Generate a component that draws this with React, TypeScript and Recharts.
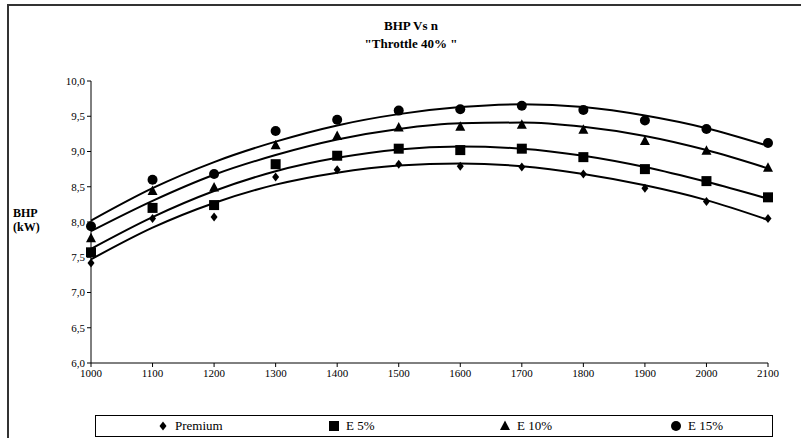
import { ComposedChart, Line, Scatter, XAxis, YAxis } from "recharts";

const rpm = [1000, 1100, 1200, 1300, 1400, 1500, 1600, 1700, 1800, 1900, 2000, 2100];

const premium = [7.42, 8.05, 8.07, 8.64, 8.74, 8.82, 8.79, 8.78, 8.68, 8.48, 8.29, 8.05];
const e5 = [7.57, 8.2, 8.24, 8.82, 8.94, 9.04, 9.02, 9.04, 8.92, 8.75, 8.58, 8.35];
const e10 = [7.77, 8.44, 8.49, 9.09, 9.22, 9.34, 9.35, 9.38, 9.31, 9.15, 9.01, 8.77];
const e15 = [7.94, 8.6, 8.68, 9.29, 9.45, 9.58, 9.6, 9.65, 9.59, 9.44, 9.32, 9.12];

// trend lines
const premiumTrend = [7.47, 7.92, 8.27, 8.53, 8.7, 8.8, 8.83, 8.79, 8.68, 8.52, 8.31, 8.03];
const e5Trend = [7.62, 8.07, 8.44, 8.72, 8.91, 9.03, 9.07, 9.04, 8.94, 8.78, 8.57, 8.33];
const e10Trend = [7.87, 8.3, 8.67, 8.95, 9.17, 9.32, 9.4, 9.41, 9.35, 9.22, 9.02, 8.76];
const e15Trend = [8.02, 8.48, 8.85, 9.14, 9.37, 9.53, 9.63, 9.67, 9.63, 9.51, 9.33, 9.08];

const yTicks = [6, 6.5, 7, 7.5, 8, 8.5, 9, 9.5, 10];

const toRows = (vals: number[]) => rpm.map((n, i) => ({ n, v: vals[i] }));

const FONT = '"Times New Roman", "Liberation Serif", serif';

const Diamond = (p: any) => (
  <polygon
    points={`${p.cx},${p.cy - 4.5} ${p.cx + 3.5},${p.cy} ${p.cx},${p.cy + 4.5} ${p.cx - 3.5},${p.cy}`}
    fill="#000"
  />
);
const Square = (p: any) => <rect x={p.cx - 5} y={p.cy - 5} width={10} height={10} fill="#000" />;
const Triangle = (p: any) => (
  <polygon points={`${p.cx},${p.cy - 5.5} ${p.cx + 5},${p.cy + 4} ${p.cx - 5},${p.cy + 4}`} fill="#000" />
);
const Circle = (p: any) => <circle cx={p.cx} cy={p.cy} r={5} fill="#000" />;

const series = [
  { name: "Premium", pts: premium, trend: premiumTrend, shape: Diamond },
  { name: "E 5%", pts: e5, trend: e5Trend, shape: Square },
  { name: "E 10%", pts: e10, trend: e10Trend, shape: Triangle },
  { name: "E 15%", pts: e15, trend: e15Trend, shape: Circle },
];

const legendPos = [162, 333, 504, 675];

const yLabelStyle = {
  position: "absolute" as const,
  left: 13,
  fontWeight: "bold",
  fontSize: 12,
  lineHeight: "14px",
};

export default function App() {
  return (
    <div style={{ position: "absolute", left: 0, top: 0, width: 801, height: 438, background: "#fff", fontFamily: FONT, overflow: "hidden" }}>
      <div
        style={{
          position: "absolute",
          left: 7,
          top: 4,
          width: 820,
          height: 460,
          borderTop: "2px solid #333",
          borderLeft: "2px solid #333",
        }}
      />
      <div style={{ position: "absolute", left: 0, top: 17, width: 822, textAlign: "center", fontWeight: "bold", fontSize: 13, lineHeight: "18px" }}>
        BHP Vs n
        <br />
        "Throttle 40% "
      </div>
      <div style={{ ...yLabelStyle, top: 206 }}>BHP</div>
      <div style={{ ...yLabelStyle, top: 220 }}>(kW)</div>
      <div style={{ position: "absolute", left: 0, top: 0 }}>
        <ComposedChart width={801} height={438} margin={{ top: 81, right: 33, bottom: 55, left: 31 }}>
          <XAxis
            dataKey="n"
            type="number"
            domain={[1000, 2100]}
            ticks={rpm}
            allowDuplicatedCategory={false}
            axisLine={{ stroke: "#000" }}
            tickLine={{ stroke: "#000" }}
            tickSize={4}
            height={20}
            tick={{ fill: "#000", fontSize: 11, fontFamily: FONT }}
          />
          <YAxis
            type="number"
            domain={[6, 10]}
            ticks={yTicks}
            width={60}
            axisLine={{ stroke: "#000" }}
            tickLine={{ stroke: "#000" }}
            tickSize={4}
            tickFormatter={(v: number) => v.toFixed(1).replace(".", ",")}
            tick={{ fill: "#000", fontSize: 11, fontFamily: FONT }}
          />
          {series.map((s) => (
            <Line
              key={s.name + "-trend"}
              data={toRows(s.trend)}
              dataKey="v"
              type="monotone"
              stroke="#000"
              strokeWidth={2}
              dot={false}
              activeDot={false}
              isAnimationActive={false}
            />
          ))}
          {series.map((s) => (
            <Scatter key={s.name} data={toRows(s.pts)} dataKey="v" shape={s.shape} isAnimationActive={false} />
          ))}
        </ComposedChart>
      </div>
      <div
        style={{
          position: "absolute",
          left: 95,
          top: 415,
          width: 678,
          height: 22,
          border: "1px solid #000",
          boxSizing: "border-box",
          fontSize: 13,
        }}
      >
        {series.map((s, i) => (
          <div key={s.name} style={{ position: "absolute", left: legendPos[i] - 95 - 6, top: 2, display: "flex", alignItems: "center", height: 16 }}>
            <svg width={12} height={12}>
              <s.shape cx={6} cy={6} />
            </svg>
            <span style={{ marginLeft: 6 }}>{s.name}</span>
          </div>
        ))}
      </div>
    </div>
  );
}
